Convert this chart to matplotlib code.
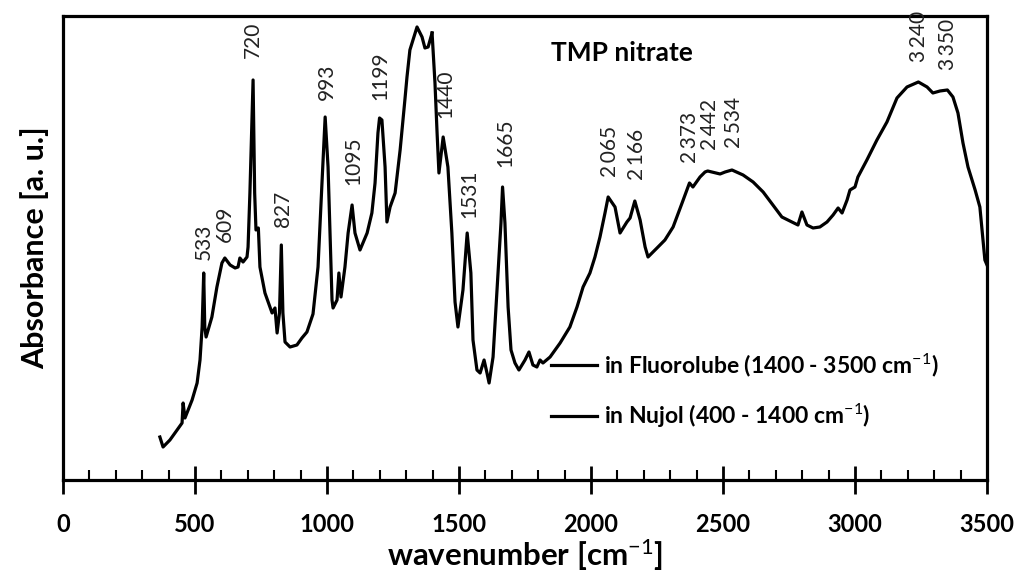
import matplotlib
matplotlib.use("Agg")
import matplotlib.pyplot as plt
from matplotlib.ticker import MultipleLocator

plt.rcParams['font.family'] = ['Lato', 'DejaVu Sans']
plt.rcParams['mathtext.fontset'] = 'custom'
plt.rcParams['mathtext.rm'] = 'Lato'
plt.rcParams['mathtext.it'] = 'Lato:italic'
plt.rcParams['mathtext.bf'] = 'Lato:bold'

# ---- data (absorbance in arbitrary units) ----
nujol_wn = [367, 379, 405, 424, 451, 455, 462, 489, 508, 519, 527, 533, 537, 542,
            564, 583, 602, 613, 633, 652, 663, 670, 682, 697, 701, 708, 720, 726,
            731, 740, 746, 765, 792, 803, 811, 820, 827, 833, 841, 860, 886, 905,
            924, 947, 966, 981, 993, 1004, 1019, 1023, 1038, 1045, 1053, 1068,
            1080, 1095, 1106, 1125, 1152, 1170, 1182, 1193, 1199, 1208, 1220,
            1227, 1239, 1258, 1277, 1295, 1303, 1314, 1341, 1360, 1371, 1383, 1398]
nujol_abs = [43, 33, 40, 47, 57, 77, 62, 80, 97, 120, 153, 207, 153, 143,
             163, 193, 217, 222, 215, 212, 213, 222, 218, 223, 233, 287, 400, 287,
             250, 252, 213, 187, 167, 172, 147, 167, 235, 167, 138, 133, 135, 142,
             148, 166, 213, 297, 363, 313, 180, 172, 180, 207, 183, 213,
             247, 275, 247, 230, 247, 267, 297, 347, 362, 360, 313,
             258, 273, 287, 330, 380, 403, 430, 453, 443, 432, 433, 447]

fluoro_wn = [1398, 1409, 1417, 1424, 1440, 1458, 1473, 1485, 1496, 1515, 1531, 1545,
             1553, 1568, 1580, 1595, 1606, 1614, 1629, 1644, 1659, 1665, 1674, 1686,
             1697, 1712, 1727, 1750, 1765, 1780, 1795, 1807, 1818, 1845, 1883, 1920,
             1947, 1970, 1996, 2015, 2034, 2053, 2065, 2091, 2110, 2136, 2148, 2166,
             2186, 2205, 2216, 2250, 2280, 2311, 2345, 2373, 2386, 2413, 2432, 2442,
             2489, 2508, 2534, 2576, 2614, 2652, 2689, 2723, 2761, 2784, 2799, 2818,
             2841, 2867, 2894, 2917, 2936, 2951, 2970, 2981, 3000, 3011, 3045, 3083,
             3121, 3159, 3197, 3240, 3273, 3295, 3322, 3350, 3371, 3390, 3409, 3428,
             3455, 3473, 3492, 3500]
fluoro_abs = [447, 397, 347, 307, 343, 313, 247, 178, 153, 190, 247, 207,
              140, 110, 107, 120, 107, 97, 123, 190, 257, 293, 257, 173,
              130, 117, 110, 120, 128, 115, 113, 120, 117, 123, 137, 153,
              173, 193, 207, 223, 243, 267, 283, 273, 247, 258, 262, 279,
              260, 233, 223, 232, 240, 253, 277, 297, 293, 303, 308, 309,
              306, 308, 310, 305, 298, 288, 275, 263, 258, 255, 268, 255,
              252, 253, 258, 265, 272, 267, 280, 290, 293, 303, 320, 340,
              358, 382, 393, 398, 393, 387, 389, 390, 383, 367, 337, 313,
              290, 273, 220, 215]

peak_labels = ['533', '609', '720', '827', '993', '1095', '1199', '1440', '1531',
               '1665', '2\u2009065', '2\u2009166', '2\u2009373', '2\u2009442',
               '2\u2009534', '3\u2009240', '3\u2009350']
peak_label_x = [533, 613, 720, 833, 1000, 1098, 1201, 1447, 1538,
                1674, 2072, 2174, 2374, 2450, 2540, 3244, 3354]
peak_label_y = [220, 238, 422, 253, 380, 295, 380, 362, 262,
                313, 303, 300, 317, 330, 332, 418, 410]

fig = plt.figure(figsize=(10.21, 5.77), dpi=100)
ax = fig.add_axes([0.0617, 0.1681, 0.905, 0.8042])

ax.plot(fluoro_wn, fluoro_abs, color='black', lw=2.3, solid_joinstyle='round',
        label='in Fluorolube (1400 - 3500 cm$^{-1}$)')
ax.plot(nujol_wn, nujol_abs, color='black', lw=2.3, solid_joinstyle='round',
        label='in Nujol (400 - 1400 cm$^{-1}$)')

for t, x, y in zip(peak_labels, peak_label_x, peak_label_y):
    ax.text(x, y, t, rotation=90, ha='center', va='bottom', fontsize=15,
            color='#222222', family=['Lato', 'DejaVu Sans'])

ax.text(0.605, 0.92, 'TMP nitrate', transform=ax.transAxes, ha='center',
        va='center', fontsize=19, fontweight='bold')

leg = ax.legend(loc='upper left', bbox_to_anchor=(0.528, 0.277), frameon=False,
                borderaxespad=0, borderpad=0, handlelength=2.0, handletextpad=0.3,
                labelspacing=1.0, prop={'family': 'Lato', 'weight': 'bold', 'size': 16.5})

ax.set_xlim(0, 3500)
ax.set_ylim(0, 464)
ax.set_yticks([])
ax.xaxis.set_major_locator(MultipleLocator(500))
ax.xaxis.set_minor_locator(MultipleLocator(100))
ax.tick_params(axis='x', which='major', direction='inout', length=20, width=2,
               labelsize=17, pad=14)
ax.tick_params(axis='x', which='minor', direction='in', length=7, width=1.5)
for lab in ax.get_xticklabels():
    lab.set_fontweight('bold')

for s in ax.spines.values():
    s.set_linewidth(2.3)

ax.set_xlabel('wavenumber [cm$^{-1}$]', fontsize=22.5, fontweight='bold', labelpad=1)
ax.set_ylabel('Absorbance [a. u.]', fontsize=22, fontweight='bold', labelpad=10)

fig.savefig('out.png', dpi=100)
